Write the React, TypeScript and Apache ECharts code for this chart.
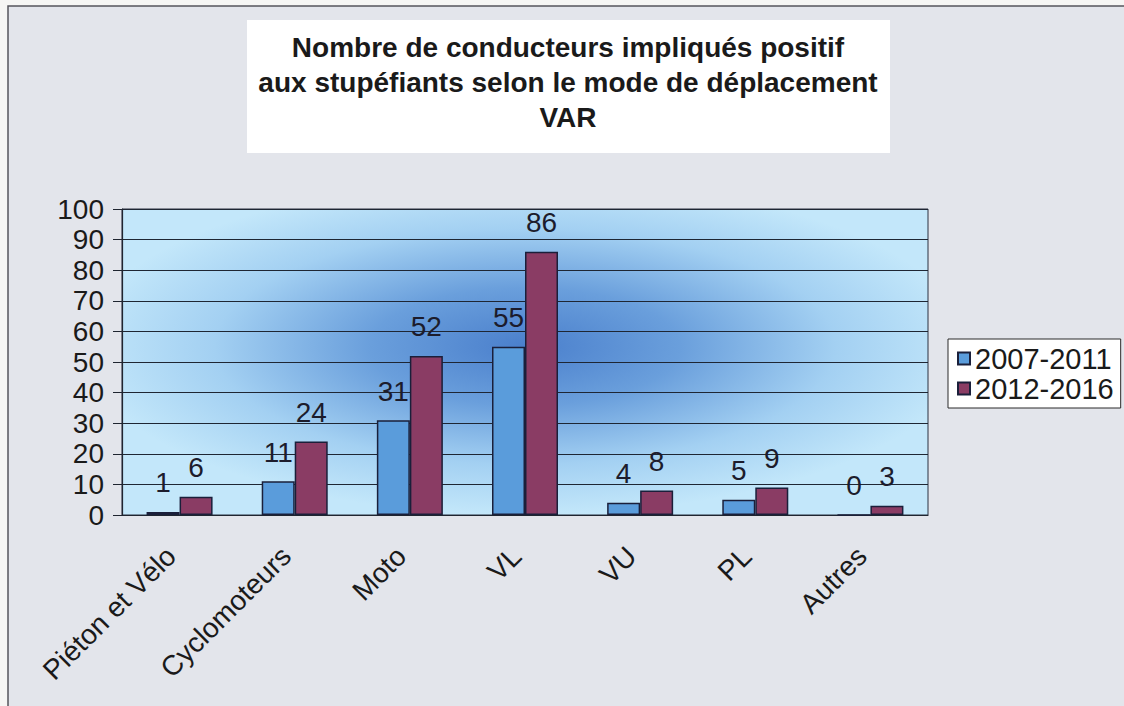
import React, { useEffect, useRef } from "react";
import * as echarts from "echarts";

const categories = ["Piéton et Vélo", "Cyclomoteurs", "Moto", "VL", "VU", "PL", "Autres"];
const series2007 = [1, 11, 31, 55, 4, 5, 0];
const series2012 = [6, 24, 52, 86, 8, 9, 3];
const seriesNames = ["2007-2011", "2012-2016"];
const titleLines = [
  "Nombre de conducteurs impliqués positif",
  "aux stupéfiants selon le mode de déplacement",
  "VAR",
];

const FONT = "'Liberation Sans', Arial, sans-serif";

export default function App() {
  const ref = useRef<HTMLDivElement>(null);
  useEffect(() => {
    if (!ref.current) return;
    const chart = echarts.init(ref.current, null, { renderer: "svg" });
    const labelStyle = {
      show: true,
      position: "top",
      distance: 15,
      fontSize: 28,
      fontFamily: FONT,
      color: "#1c1c2c",
    };
    chart.setOption({
      animation: false,
      backgroundColor: "#f6f6f4",
      textStyle: { fontFamily: FONT },
      graphic: [
        {
          type: "rect",
          z: -10,
          shape: { x: 8, y: 6, width: 1130, height: 720 },
          style: { fill: "#e3e5eb", stroke: "#55565c", lineWidth: 1.5 },
        },
        {
          type: "rect",
          z: 10,
          shape: { x: 247, y: 20, width: 643, height: 133 },
          style: { fill: "#ffffff" },
        },
        {
          type: "text",
          z: 11,
          x: 568,
          y: 82,
          style: {
            text: titleLines.join("\n"),
            fontSize: 28,
            fontWeight: "bold",
            fontFamily: FONT,
            lineHeight: 35,
            fill: "#1a1a1a",
            textAlign: "center",
            textVerticalAlign: "middle",
          },
        },
      ],
      legend: {
        orient: "vertical",
        left: 948,
        top: 339,
        backgroundColor: "#ffffff",
        borderColor: "#2a2a2a",
        borderWidth: 1,
        padding: [5, 7, 5, 9],
        itemGap: 1,
        itemWidth: 12,
        itemHeight: 12,
        icon: "rect",
        textStyle: { fontSize: 29, fontFamily: FONT, color: "#1a1a1a", padding: [0, 0, 0, 0] },
        data: seriesNames,
      },
      grid: {
        left: 122,
        top: 209,
        right: 196,
        bottom: 191,
        show: true,
        borderColor: "#2a3040",
        borderWidth: 1,
        backgroundColor: {
          type: "radial",
          x: 0.5,
          y: 0.45,
          r: 0.55,
          colorStops: [
            { offset: 0, color: "#4a7fcc" },
            { offset: 0.35, color: "#6a9fdc" },
            { offset: 0.7, color: "#a3d0f2" },
            { offset: 1, color: "#c3e7fa" },
          ],
        },
      },
      xAxis: {
        type: "category",
        data: categories,
        axisLine: { lineStyle: { color: "#1f2530", width: 1.2 } },
        axisTick: { length: 9, lineStyle: { color: "#1f2530" } },
        axisLabel: {
          rotate: 45,
          interval: 0,
          margin: 28,
          padding: [0, 12, 0, 0],
          fontSize: 28,
          fontFamily: FONT,
          color: "#1a1a1a",
        },
      },
      yAxis: {
        type: "value",
        min: 0,
        max: 100,
        interval: 10,
        axisLine: { show: true, lineStyle: { color: "#1f2530", width: 1.2 } },
        axisTick: { show: true, length: 9, lineStyle: { color: "#1f2530" } },
        axisLabel: { margin: 18, fontSize: 28, fontFamily: FONT, color: "#1a1a1a" },
        splitLine: { lineStyle: { color: "#1e2633", width: 1 } },
      },
      series: [
        {
          name: seriesNames[0],
          type: "bar",
          data: series2007,
          barWidth: 33,
          barGap: "0%",
          itemStyle: { color: "#5a9cdb", borderColor: "#1a1f3a", borderWidth: 1.5 },
          label: labelStyle,
        },
        {
          name: seriesNames[1],
          type: "bar",
          data: series2012,
          barWidth: 33,
          barGap: "0%",
          itemStyle: { color: "#8a3c64", borderColor: "#1a1f3a", borderWidth: 1.5 },
          label: labelStyle,
        },
      ],
    });
    return () => chart.dispose();
  }, []);
  return (
    <div
      ref={ref}
      style={{ position: "fixed", left: 0, top: 0, width: 1124, height: 706 }}
    />
  );
}
